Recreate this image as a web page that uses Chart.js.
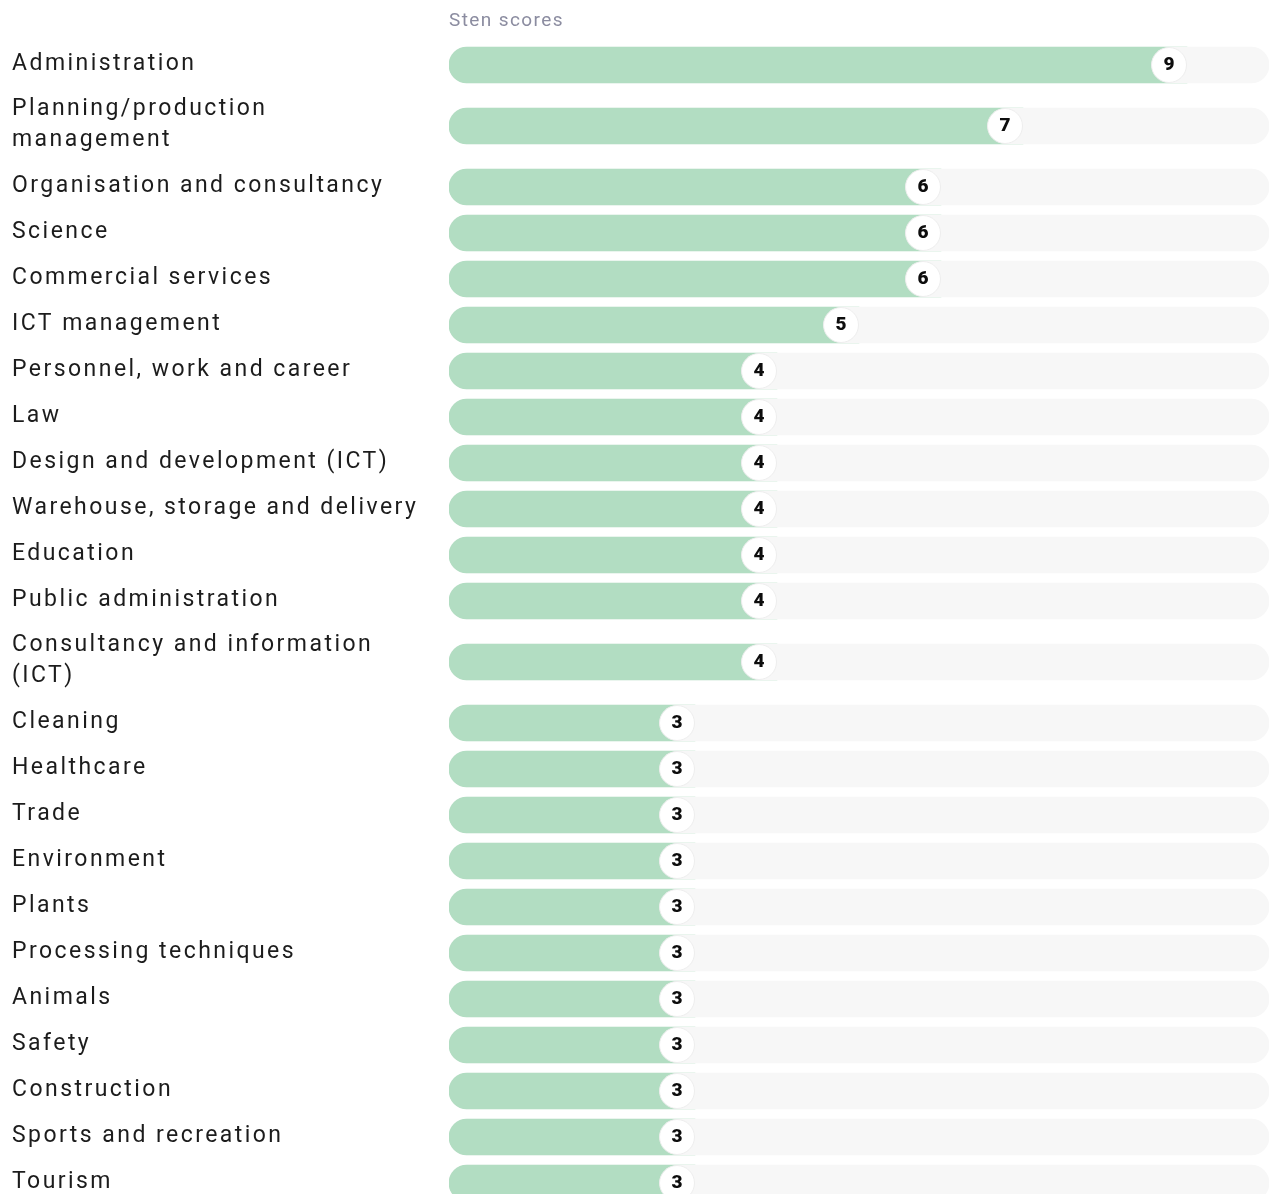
<!DOCTYPE html>
<html lang="en">
<head>
  <meta charset="UTF-8">
  <title>Sten scores</title>
  <script src="https://cdn.jsdelivr.net/npm/chart.js"></script>
  <style>
    html, body { margin: 0; padding: 0; overflow: hidden; background: #fff; }
    #chartCanvas { display: block; }
  </style>
</head>
<body>
  <canvas id="chartCanvas" width="1278" height="1206"></canvas>

  <script>
    // categories (multi-line ones split the way they wrap in the original)
    const categories = [
      'Administration',
      ['Planning/production', 'management'],
      'Organisation and consultancy',
      'Science',
      'Commercial services',
      'ICT management',
      'Personnel, work and career',
      'Law',
      'Design and development (ICT)',
      'Warehouse, storage and delivery',
      'Education',
      'Public administration',
      ['Consultancy and information', '(ICT)'],
      'Cleaning',
      'Healthcare',
      'Trade',
      'Environment',
      'Plants',
      'Processing techniques',
      'Animals',
      'Safety',
      'Construction',
      'Sports and recreation',
      'Tourism'
    ];
    const stenScores = [9, 7, 6, 6, 6, 5, 4, 4, 4, 4, 4, 4, 4, 3, 3, 3, 3, 3, 3, 3, 3, 3, 3, 3];
    const MAX_SCORE = 10;
    const axisTitle = 'Sten scores';

    const GREEN = '#b2ddc2';
    const TRACK = '#f7f7f7';
    const ROW = 46, EXTRA_LINE = 30, BAR_H = 36, R = 18;

    // row centres along a pixel-based linear axis, taller rows for wrapped labels
    const rowPos = [];
    let acc = 0;
    categories.forEach(c => {
      const lines = Array.isArray(c) ? c.length : 1;
      const h = ROW + EXTRA_LINE * (lines - 1);
      rowPos.push(acc + h / 2);
      acc += h;
    });
    const totalH = acc;

    const scorePoints = stenScores.map((v, i) => ({ x: v, y: rowPos[i] }));
    const trackPoints = stenScores.map((_, i) => ({ x: MAX_SCORE, y: rowPos[i] }));

    // the category labels are letter-spaced in the original
    const spacingPlugin = {
      id: 'spacing',
      beforeDraw(chart) { chart.ctx.letterSpacing = '2.45px'; },
      beforeDatasetsDraw(chart) { chart.ctx.letterSpacing = '0px'; }
    };

    const badgePlugin = {
      id: 'badges',
      afterDatasetsDraw(chart) {
        const ctx = chart.ctx;
        const meta = chart.getDatasetMeta(0);
        ctx.save();
        meta.data.forEach((bar, i) => {
          const cx = bar.x - R;
          // green stops under the circle centre
          ctx.fillStyle = TRACK;
          ctx.fillRect(cx, bar.y - BAR_H / 2, R + 1, BAR_H);
          ctx.beginPath();
          ctx.arc(cx, bar.y, 17.5, 0, Math.PI * 2);
          ctx.fillStyle = '#ffffff';
          ctx.fill();
          ctx.strokeStyle = '#eeeeee';
          ctx.lineWidth = 1;
          ctx.stroke();
          ctx.fillStyle = '#0d0d0d';
          ctx.font = '900 19px Roboto';
          ctx.textAlign = 'center';
          ctx.textBaseline = 'middle';
          ctx.fillText(String(stenScores[i]), cx, bar.y + 0.5);
        });
        // axis caption above the bars
        ctx.fillStyle = '#8b8ca0';
        ctx.font = '19px Roboto';
        ctx.textAlign = 'left';
        ctx.textBaseline = 'middle';
        ctx.letterSpacing = '1.4px';
        ctx.fillText(axisTitle, chart.chartArea.left, 21);
        ctx.letterSpacing = '0px';
        ctx.restore();
      }
    };

    const ctx = document.getElementById('chartCanvas').getContext('2d');
    new Chart(ctx, {
      type: 'bar',
      data: {
        datasets: [
          {
            data: scorePoints,
            backgroundColor: GREEN,
            barThickness: BAR_H,
            grouped: false,
            order: 0,
            borderSkipped: false,
            borderRadius: { topLeft: R, bottomLeft: R, topRight: 0, bottomRight: 0 }
          },
          {
            data: trackPoints,
            backgroundColor: TRACK,
            barThickness: BAR_H,
            grouped: false,
            order: 1,
            borderSkipped: false,
            borderRadius: R
          }
        ]
      },
      options: {
        indexAxis: 'y',
        responsive: false,
        animation: false,
        layout: { padding: { left: 12, right: 9, top: 42, bottom: 0 } },
        plugins: {
          legend: { display: false },
          tooltip: { enabled: false }
        },
        scales: {
          x: {
            type: 'linear',
            min: 0,
            max: MAX_SCORE,
            display: false
          },
          y: {
            type: 'linear',
            min: 0,
            max: totalH,
            reverse: true,
            offset: false,
            grid: { display: false, offset: false },
            border: { display: false },
            afterBuildTicks: axis => {
              axis.ticks = rowPos.map(v => ({ value: v }));
            },
            afterFit: axis => {
              axis.width = 437;
              axis.paddingTop = 0;
              axis.paddingBottom = 0;
            },
            ticks: {
              autoSkip: false,
              crossAlign: 'far',
              padding: 0,
              labelOffset: -1,
              color: '#1c1c1c',
              font: { family: 'Roboto', size: 23, lineHeight: 1.36 },
              callback: (value, index) => categories[index]
            }
          }
        }
      },
      plugins: [spacingPlugin, badgePlugin]
    });
  </script>
</body>
</html>
